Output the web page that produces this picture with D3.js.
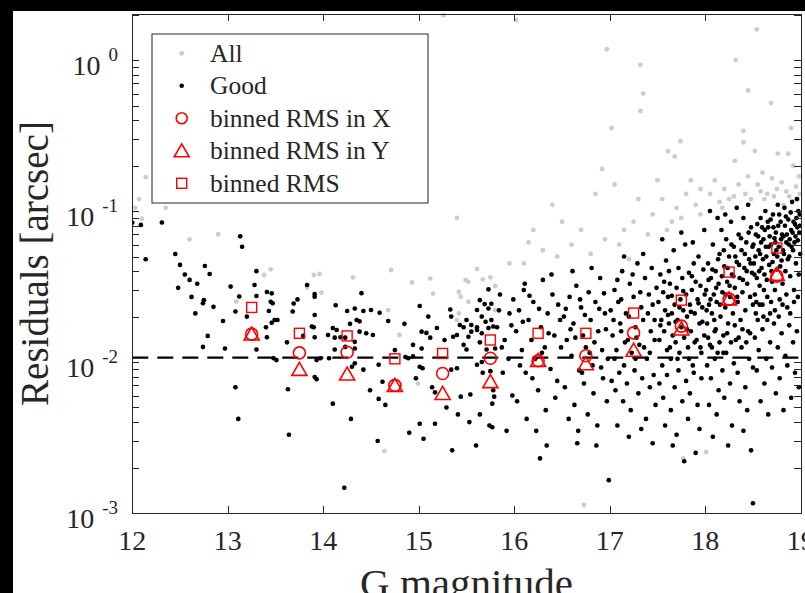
<!DOCTYPE html>
<meta charset="utf-8">
<head>
    <title>Residuals vs G magnitude</title>
</head>
<style>
    body { margin: 0; background: #000; }
    svg { display: block; }
    text { font-family: "Liberation Serif", "Times New Roman", serif; fill: #262626; }
    .axis path, .axis line { stroke: #262626; stroke-width: 1px; shape-rendering: crispEdges; }
</style>
<script src="https://d3js.org/d3.v7.min.js"></script>
<div id="fig"></div>
<script>

    // ---- data: [G magnitude, residual in arcsec] ----
    // stars flagged as good
    var goodPts = [
        [12.0,0.0837],[12.09,0.081],[12.14,0.048],[12.31,0.084],[12.45,0.052],[12.5,0.044],[12.55,0.038],
        [12.48,0.031],[12.6,0.035],[12.62,0.027],[12.68,0.033],[12.66,0.021],
        [12.76,0.0433],[12.81,0.0383],[13.30,0.0400],[13.03,0.0316],[13.28,0.0324],[13.12,0.0272],[12.75,0.0257],
        [12.74,0.0245],[12.85,0.0232],[13.41,0.0291],[13.46,0.0285],[13.30,0.0274],[13.45,0.0251],[13.47,0.0245],
        [13.08,0.0216],[13.43,0.0218],[13.20,0.0200],[13.49,0.0190],[13.52,0.0190],[12.95,0.0187],[13.46,0.0182],
        [13.40,0.0170],[12.79,0.0149],[13.41,0.0146],[12.74,0.0126],[12.97,0.0123],[13.30,0.0121],[13.62,0.0135],
        [13.73,0.0260],[13.69,0.0244],[13.68,0.0216],[13.91,0.0282],[13.91,0.0271],[13.83,0.0324],[13.91,0.0205],
        [13.88,0.0172],[13.90,0.0170],[13.91,0.0146],[13.79,0.0149],[13.48,0.0106],[13.51,0.0103],[13.93,0.0103],
        [13.91,0.00795],[13.93,0.0077],[13.08,0.0068],[13.63,0.0066],[13.11,0.0042],[13.13,0.068],[13.15,0.058],
        [13.64,0.0033],[14.22,0.00147],
        [14.13,0.0238],[14.25,0.0218],[14.40,0.0286],[14.33,0.0226],[14.35,0.0190],[14.38,0.0186],[14.28,0.0179],
        [14.10,0.0168],[14.14,0.0163],[14.18,0.0146],[14.12,0.0145],[14.23,0.0145],[14.05,0.0151],[14.38,0.0159],
        [14.45,0.0155],[14.42,0.0218],[14.50,0.0221],[14.33,0.0136],[14.33,0.0123],[14.12,0.0121],[14.23,0.0126],
        [14.06,0.0106],[13.97,0.0106],[14.33,0.0098],[14.30,0.0093],[14.42,0.0089],[14.10,0.0053],[14.29,0.0042],
        [14.49,0.0065],[14.59,0.0212],[14.52,0.0151],[14.68,0.0187],[14.85,0.0179],[14.58,0.0096],[14.75,0.0120],
        [14.86,0.0108],[14.89,0.0106],[14.94,0.0109],[14.94,0.0130],[14.62,0.0074],[14.65,0.0052],[14.58,0.0057],
        [14.57,0.0030],[14.9,0.0034],
        [15.01,0.0235],[15.10,0.0200],[15.03,0.0159],[15.08,0.0156],[15.12,0.0145],[15.03,0.0123],[15.01,0.0093],
        [15.04,0.0091],[14.97,0.0078],[15.19,0.0168],[15.33,0.0223],[15.34,0.0200],[15.27,0.0140],[15.36,0.0147],
        [15.40,0.0151],[15.47,0.0170],[15.43,0.0176],[15.50,0.0190],[15.55,0.0176],[15.61,0.0170],[15.55,0.0159],
        [15.52,0.0147],[15.47,0.0130],[15.50,0.0121],[15.40,0.0091],[15.34,0.0089],[15.14,0.0068],[15.17,0.0063],
        [15.29,0.0050],[15.41,0.0045],[15.01,0.0039],[15.17,0.0039],[15.53,0.0040],[15.44,0.0059],[15.54,0.0061],
        [15.64,0.0257],[15.69,0.0242],[15.73,0.0226],[15.76,0.0243],[15.61,0.0221],[15.66,0.0200],[15.70,0.0185],
        [15.76,0.0190],[15.73,0.0303],[15.61,0.0163],[15.66,0.0155],[15.73,0.0168],[15.78,0.0172],[15.82,0.0170],
        [15.64,0.0135],[15.71,0.0121],[15.80,0.0123],[15.66,0.0100],[15.67,0.0085],[15.61,0.0096],[15.75,0.0087],
        [15.79,0.0059],[15.77,0.0053],[15.64,0.0045],[15.74,0.0038],[15.77,0.0037],[15.78,0.0065],
        [15.05,0.0031],[15.6,0.0028],[15.35,0.0026],
        [15.85,0.028],[15.9,0.014],[15.95,0.021],[15.88,0.0085],[15.98,0.006],[15.92,0.0035],[15.87,0.0125],
        [15.97,0.0175],[15.84,0.022],[15.94,0.0105],[15.99,0.026],
        [16.02,0.016],[16.05,0.022],[16.08,0.012],[16.1,0.03],[16.12,0.0085],[16.15,0.019],[16.18,0.014],[16.2,0.025],
        [16.22,0.0105],[16.25,0.0065],[16.28,0.017],[16.3,0.035],[16.32,0.0125],[16.35,0.021],[16.38,0.009],[16.4,0.028],
        [16.42,0.015],[16.45,0.0075],[16.48,0.019],[16.03,0.0055],[16.13,0.0042],[16.23,0.0035],[16.33,0.0048],
        [16.43,0.0058],[16.06,0.0095],[16.16,0.0275],[16.26,0.0225],[16.36,0.0155],[16.46,0.024],[16.09,0.0185],
        [16.19,0.0078],[16.29,0.0115],[16.39,0.038],[16.49,0.0125],[16.27,0.0023],[16.34,0.0028],[16.11,0.033],
        [16.52,0.02],[16.55,0.014],[16.58,0.027],[16.6,0.011],[16.62,0.018],[16.65,0.032],[16.68,0.0088],[16.7,0.023],
        [16.72,0.015],[16.75,0.0125],[16.78,0.029],[16.8,0.019],[16.82,0.0095],[16.85,0.025],[16.88,0.016],[16.9,0.036],
        [16.92,0.012],[16.95,0.021],[16.98,0.0105],[16.53,0.0068],[16.63,0.0052],[16.73,0.0072],[16.83,0.0062],
        [16.93,0.0078],[16.57,0.0042],[16.67,0.0035],[16.77,0.0045],[16.87,0.0038],[16.97,0.0055],[16.99,0.00165],
        [16.54,0.0225],[16.64,0.0145],[16.74,0.0205],[16.84,0.0135],[16.94,0.0285],[16.59,0.0165],[16.69,0.026],
        [16.79,0.0115],[16.89,0.0225],[16.96,0.0165],[16.61,0.04],[16.81,0.042],[16.71,0.0085],[16.91,0.0092],
        [16.86,0.0028],[16.66,0.0029],
        [17.01,0.022],[17.03,0.015],[17.05,0.03],[17.07,0.012],[17.09,0.025],[17.11,0.018],[17.13,0.04],[17.15,0.0095],
        [17.17,0.021],[17.19,0.014],[17.21,0.033],[17.23,0.0115],[17.25,0.027],[17.27,0.017],[17.29,0.045],[17.31,0.013],
        [17.33,0.023],[17.35,0.019],[17.37,0.036],[17.39,0.0105],[17.41,0.028],[17.43,0.016],[17.45,0.024],[17.47,0.014],
        [17.49,0.031],[17.02,0.0075],[17.06,0.0065],[17.1,0.0085],[17.14,0.0055],[17.18,0.0072],[17.22,0.0048],
        [17.26,0.0088],[17.3,0.0062],[17.34,0.0078],[17.38,0.0042],[17.42,0.0068],[17.46,0.0082],[17.48,0.0052],
        [17.04,0.019],[17.08,0.035],[17.12,0.026],[17.16,0.0135],[17.2,0.02],[17.24,0.038],[17.28,0.0145],[17.32,0.029],
        [17.36,0.0125],[17.4,0.021],[17.44,0.042],[17.08,0.0038],[17.2,0.0032],[17.33,0.0036],[17.45,0.0029],
        [17.15,0.05],[17.35,0.052],[17.27,0.0105],[17.05,0.0105],[17.42,0.0115],[17.47,0.019],[17.12,0.016],
        [17.51,0.025],[17.52,0.014],[17.53,0.038],[17.54,0.019],[17.55,0.0095],[17.56,0.029],[17.57,0.016],[17.58,0.022],
        [17.59,0.047],[17.6,0.012],[17.61,0.027],[17.62,0.018],[17.63,0.033],[17.64,0.0105],[17.65,0.021],[17.66,0.015],
        [17.67,0.055],[17.68,0.024],[17.69,0.0135],[17.7,0.031],[17.71,0.019],[17.72,0.042],[17.73,0.0115],[17.74,0.026],
        [17.75,0.017],[17.76,0.036],[17.77,0.022],[17.78,0.0145],[17.79,0.06],[17.8,0.028],[17.81,0.02],[17.82,0.0125],
        [17.83,0.039],[17.84,0.024],[17.85,0.016],[17.86,0.03],[17.87,0.0095],[17.88,0.045],[17.89,0.021],[17.9,0.034],
        [17.91,0.014],[17.92,0.026],[17.93,0.05],[17.94,0.018],[17.95,0.032],[17.96,0.0115],[17.97,0.023],[17.98,0.041],
        [17.99,0.015],[17.995,0.028],[17.52,0.0072],[17.56,0.0058],[17.6,0.0082],[17.64,0.0048],[17.68,0.0068],
        [17.72,0.0088],[17.76,0.0055],[17.8,0.0075],[17.84,0.0062],[17.88,0.0085],[17.92,0.0052],[17.96,0.0078],
        [17.58,0.0038],[17.7,0.0033],[17.82,0.0042],[17.94,0.0036],[17.66,0.0028],[17.9,0.0025],[17.78,0.0022],
        [17.53,0.0175],[17.57,0.034],[17.61,0.0205],[17.65,0.0275],[17.69,0.0185],[17.73,0.023],[17.77,0.0295],
        [17.81,0.0165],[17.85,0.0215],[17.89,0.0135],[17.93,0.0245],[17.97,0.0185],[17.55,0.065],[17.75,0.072],
        [17.87,0.062],[17.99,0.075],[17.63,0.0125],[17.71,0.0105],[17.83,0.0105],[17.95,0.0125],[17.62,0.04],[17.86,0.037],
        [18.01,0.03],[18.02,0.018],[18.03,0.045],[18.04,0.024],[18.05,0.013],[18.06,0.036],[18.07,0.021],[18.08,0.06],
        [18.09,0.028],[18.1,0.016],[18.11,0.04],[18.12,0.025],[18.13,0.0115],[18.14,0.033],[18.15,0.052],[18.16,0.02],
        [18.17,0.075],[18.18,0.029],[18.19,0.015],[18.2,0.043],[18.21,0.023],[18.22,0.065],[18.23,0.034],[18.24,0.018],
        [18.25,0.05],[18.26,0.027],[18.27,0.085],[18.28,0.038],[18.29,0.021],[18.3,0.058],[18.31,0.031],[18.32,0.014],
        [18.33,0.046],[18.34,0.025],[18.35,0.07],[18.36,0.036],[18.37,0.019],[18.38,0.055],[18.39,0.029],[18.4,0.09],
        [18.41,0.042],[18.42,0.022],[18.43,0.062],[18.44,0.033],[18.45,0.016],[18.46,0.048],[18.47,0.027],[18.48,0.078],
        [18.49,0.039],[18.5,0.024],[18.015,0.022],[18.035,0.035],[18.055,0.026],[18.075,0.041],[18.095,0.019],
        [18.115,0.031],[18.135,0.048],[18.155,0.024],[18.175,0.037],[18.195,0.055],[18.215,0.028],[18.235,0.042],
        [18.255,0.032],[18.275,0.06],[18.295,0.037],[18.315,0.05],[18.335,0.027],[18.355,0.044],[18.375,0.066],
        [18.395,0.035],[18.415,0.052],[18.435,0.04],[18.455,0.072],[18.475,0.045],[18.495,0.058],
        [18.02,0.0095],[18.06,0.0078],[18.1,0.0105],[18.14,0.0065],[18.18,0.0088],[18.22,0.0115],[18.26,0.0072],
        [18.3,0.0098],[18.34,0.0085],[18.38,0.0125],[18.42,0.0068],[18.46,0.0105],[18.5,0.0092],[18.04,0.0052],
        [18.12,0.0045],[18.2,0.0058],[18.28,0.0038],[18.36,0.0055],[18.44,0.0048],[18.08,0.0032],[18.24,0.0028],
        [18.4,0.0035],[18.48,0.0026],[18.03,0.0145],[18.07,0.0125],[18.11,0.0165],[18.15,0.0135],[18.19,0.0115],
        [18.23,0.0155],[18.27,0.0135],[18.31,0.0175],[18.35,0.0145],[18.39,0.0165],[18.43,0.0135],[18.47,0.0155],
        [18.05,0.1],[18.21,0.095],[18.33,0.105],[18.45,0.11],[18.13,0.09],
        [18.51,0.045],[18.52,0.028],[18.53,0.07],[18.54,0.036],[18.55,0.019],[18.56,0.055],[18.57,0.032],[18.58,0.09],
        [18.59,0.042],[18.6,0.024],[18.61,0.065],[18.62,0.038],[18.63,0.1],[18.64,0.05],[18.65,0.027],[18.66,0.078],
        [18.67,0.044],[18.68,0.021],[18.69,0.06],[18.7,0.034],[18.71,0.095],[18.72,0.052],[18.73,0.03],[18.74,0.072],
        [18.75,0.041],[18.76,0.11],[18.77,0.058],[18.78,0.026],[18.79,0.085],[18.8,0.047],[18.81,0.033],[18.82,0.068],
        [18.83,0.105],[18.84,0.04],[18.85,0.062],[18.86,0.023],[18.87,0.088],[18.88,0.05],[18.89,0.037],[18.9,0.075],
        [18.91,0.115],[18.92,0.055],[18.93,0.03],[18.94,0.082],[18.95,0.045],[18.96,0.12],[18.97,0.064],[18.98,0.038],
        [18.99,0.095],[18.995,0.052],[18.505,0.06],[18.525,0.05],[18.545,0.082],[18.565,0.04],[18.585,0.062],
        [18.605,0.048],[18.625,0.075],[18.645,0.035],[18.665,0.058],[18.685,0.088],[18.705,0.046],[18.725,0.066],
        [18.745,0.055],[18.765,0.08],[18.785,0.043],[18.805,0.07],[18.825,0.052],[18.845,0.092],[18.865,0.048],
        [18.885,0.065],[18.905,0.058],[18.925,0.085],[18.945,0.068],[18.965,0.078],[18.985,0.072],
        [18.515,0.038],[18.535,0.025],[18.555,0.068],[18.575,0.052],[18.595,0.078],[18.615,0.03],[18.635,0.058],
        [18.655,0.085],[18.675,0.068],[18.695,0.04],[18.715,0.078],[18.735,0.062],[18.755,0.05],[18.775,0.095],
        [18.795,0.065],[18.815,0.055],[18.835,0.08],[18.855,0.07],[18.875,0.06],[18.895,0.098],[18.915,0.072],
        [18.935,0.062],[18.955,0.09],[18.975,0.1],[18.99,0.08],
        [18.52,0.0145],[18.56,0.012],[18.6,0.0165],[18.64,0.0105],[18.68,0.0135],[18.72,0.018],[18.76,0.0125],
        [18.8,0.0155],[18.84,0.011],[18.88,0.0175],[18.92,0.0135],[18.96,0.016],[18.54,0.0088],[18.62,0.0072],
        [18.7,0.0092],[18.78,0.0078],[18.86,0.0095],[18.94,0.0085],[18.58,0.0055],[18.74,0.0062],[18.9,0.0058],
        [18.66,0.0045],[18.82,0.0048],[18.98,0.0068],[18.53,0.021],[18.57,0.024],[18.61,0.02],[18.65,0.019],
        [18.69,0.025],[18.73,0.022],[18.77,0.02],[18.81,0.024],[18.85,0.028],[18.89,0.021],[18.93,0.025],[18.97,0.027],
        [18.5,0.00116]
    ];

    // stars rejected (shown only in "All")
    var rejectedPts = [
        [15.26,1.98],[16.02,1.84],[16.97,1.18],[17.32,0.93],[17.35,0.60],[17.32,0.46],[18.32,1.0],[18.45,0.63],
        [18.69,0.52],[17.02,0.355],[17.74,0.29],[18.40,0.34],[18.40,0.285],[18.90,0.355],[17.61,0.249],[17.68,0.23],
        [18.52,0.25],[18.31,0.215],[18.76,0.24],[18.87,0.24],[16.92,0.19],[18.54,1.6],
        [12.14,0.168],[12.07,0.12],[12.03,0.105],[12.10,0.089],[12.45,0.12],[12.35,0.105],[12.6,0.065],[12.9,0.07],
        [13.45,0.0411],[13.38,0.0377],[13.90,0.0377],[13.96,0.0383],[13.84,0.0324],[13.83,0.0310],[13.98,0.0288],
        [14.31,0.0364],[14.71,0.0407],[14.93,0.0337],[15.12,0.0357],[15.15,0.0284],[15.49,0.0349],[15.52,0.0340],
        [15.61,0.0414],[15.67,0.0353],[15.75,0.0364],[15.80,0.0319],[13.09,0.0251],[14.68,0.0221],[14.80,0.0151],
        [14.99,0.0072],[15.42,0.0291],[15.44,0.0271],[15.40,0.0190],[15.42,0.0210],[15.52,0.0251],[15.80,0.0221],
        [14.64,0.00257],[16.73,0.00113],[17.77,0.0023],[18.01,0.00253],
        [16.1,0.045],[16.3,0.055],[16.45,0.05],[16.2,0.075],[16.4,0.11],[16.6,0.06],[16.8,0.052],[16.7,0.075],
        [16.95,0.065],[17.15,0.075],[17.25,0.085],[17.4,0.07],[17.1,0.06],[17.45,0.095],
        [15.4,0.09],[15.95,0.045],[16.15,0.062],[16.5,0.085],[16.85,0.13],[17.05,0.15],[17.3,0.12],[17.2,0.048],
        [17.55,0.12],[17.7,0.105],[17.8,0.13],[17.9,0.11],[17.65,0.085],[17.95,0.095],[17.85,0.16],
        [17.6,0.075],[17.75,0.09],[17.95,0.14],[17.5,0.16],
        [18.1,0.16],[18.2,0.14],[18.35,0.15],[18.45,0.17],[18.05,0.13],[18.25,0.12],[18.42,0.13],[18.15,0.115],
        [18.48,0.12],[18.6,0.18],[18.7,0.165],[18.8,0.155],[18.95,0.145],[18.98,0.17],[18.92,0.2],[18.85,0.135],
        [18.65,0.13],[18.75,0.14],[18.99,0.13],[18.55,0.15],[18.97,0.12],
        [18.3,0.125],[18.18,0.105],[18.62,0.12],[18.72,0.125],[18.88,0.125],[18.58,0.135],[18.82,0.11]
    ];

    // binned RMS, bin centres in magnitude
    var binMag = [13.25, 13.75, 14.25, 14.75, 15.25, 15.75, 16.25, 16.75, 17.25, 17.75, 18.25, 18.75];
    var rmsX   = [0.0153, 0.0115, 0.0116, 0.0070, 0.0084, 0.0106, 0.0102, 0.0110, 0.0156, 0.0173, 0.0261, 0.0371];
    var rmsY   = [0.0151, 0.0088, 0.0082, 0.0069, 0.0061, 0.0073, 0.0101, 0.0096, 0.0118, 0.0163, 0.0258, 0.0375];
    var rmsAll = [0.0230, 0.0155, 0.0149, 0.0105, 0.0114, 0.0140, 0.0155, 0.0155, 0.0211, 0.0257, 0.0394, 0.0569];
    var refLevel = 0.0107;

    var xTicks = [12, 13, 14, 15, 16, 17, 18, 19];
    var yMajor = [1e-3, 1e-2, 1e-1, 1e0];
    var yExp = ["-3", "-2", "-1", "0"];
    var legendNames = ["All", "Good", "binned RMS in X", "binned RMS in Y", "binned RMS"];

    // ---- layout ----
    var W = 805, H = 593;
    var axL = 132.3, axR = 800.7, axT = 14, axB = 513;

    var svg = d3.select("#fig").append("svg")
        .attr("width", W).attr("height", H);

    svg.append("rect").attr("width", W).attr("height", H).attr("fill", "#000");
    svg.append("rect").attr("x", 13).attr("y", 11).attr("width", W - 13).attr("height", H - 11).attr("fill", "#fff");

    var x = d3.scaleLinear().domain([12, 19]).range([axL, axR]);
    var y = d3.scaleLog().domain([1e-3, 2.02]).range([axB, axT]);

    svg.append("defs").append("clipPath").attr("id", "clip")
        .append("rect").attr("x", axL).attr("y", axT - 3)
        .attr("width", axR - axL + 3).attr("height", axB - axT + 3);

    var plot = svg.append("g").attr("clip-path", "url(#clip)");

    var allPts = rejectedPts.concat(goodPts);

    plot.append("g").selectAll("circle")
        .data(allPts).enter().append("circle")
        .attr("cx", function (d) { return x(d[0]); })
        .attr("cy", function (d) { return y(d[1]); })
        .attr("r", 2.4)
        .attr("fill", "#cccccc");

    plot.append("g").selectAll("circle")
        .data(goodPts).enter().append("circle")
        .attr("cx", function (d) { return x(d[0]); })
        .attr("cy", function (d) { return y(d[1]); })
        .attr("r", 2.3)
        .attr("fill", "#000");

    // reference level
    plot.append("line")
        .attr("x1", x(12)).attr("x2", x(19))
        .attr("y1", y(refLevel)).attr("y2", y(refLevel))
        .attr("stroke", "#000").attr("stroke-width", 2.4)
        .attr("stroke-dasharray", "16,9");

    // marker shapes
    var triPath = "M0,-8 L7.5,5 L-7.5,5 Z";
    var binG = plot.append("g");
    binG.selectAll(null).data(binMag).enter().append("circle")
        .attr("cx", function (d) { return x(d); })
        .attr("cy", function (d, i) { return y(rmsX[i]); })
        .attr("r", 6)
        .attr("fill", "none").attr("stroke", "#ff0000").attr("stroke-width", 1.6);
    binG.selectAll(null).data(binMag).enter().append("path")
        .attr("d", triPath)
        .attr("transform", function (d, i) { return "translate(" + x(d) + "," + y(rmsY[i]) + ")"; })
        .attr("fill", "none").attr("stroke", "#ff0000").attr("stroke-width", 1.6);
    binG.selectAll(null).data(binMag).enter().append("rect")
        .attr("x", function (d) { return x(d) - 5; })
        .attr("y", function (d, i) { return y(rmsAll[i]) - 5; })
        .attr("width", 10).attr("height", 10)
        .attr("fill", "none").attr("stroke", "#ff0000").attr("stroke-width", 1.4);

    // ---- axes (ticks pointing inward, box on) ----
    var yMinor = [];
    [1e-3, 1e-2, 1e-1, 1].forEach(function (dec) {
        for (var k = 2; k <= 9; k++) { if (dec * k <= 2.02) yMinor.push(dec * k); }
    });
    var yAll = yMajor.concat(yMinor);

    svg.append("g").attr("class", "axis")
        .attr("transform", "translate(0," + axB + ")")
        .call(d3.axisBottom(x).tickValues(xTicks).tickSizeInner(-7).tickSizeOuter(0).tickFormat(""));
    svg.append("g").attr("class", "axis")
        .attr("transform", "translate(0," + axT + ")")
        .call(d3.axisTop(x).tickValues(xTicks).tickSizeInner(-7).tickSizeOuter(0).tickFormat(""));
    svg.append("g").attr("class", "axis")
        .attr("transform", "translate(" + axL + ",0)")
        .call(d3.axisLeft(y).tickValues(yAll).tickSizeInner(-7).tickSizeOuter(0).tickFormat(""));
    svg.append("g").attr("class", "axis")
        .attr("transform", "translate(" + axR + ",0)")
        .call(d3.axisRight(y).tickValues(yAll).tickSizeInner(-7).tickSizeOuter(0).tickFormat(""));

    // x tick labels
    svg.append("g").selectAll("text")
        .data(xTicks).enter().append("text")
        .attr("x", function (d) { return x(d); })
        .attr("y", 550)
        .attr("text-anchor", "middle")
        .attr("font-size", "28px")
        .text(function (d) { return d; });

    // y tick labels 10^n
    var yl = svg.append("g").selectAll("text")
        .data(yMajor).enter().append("text")
        .attr("x", 118)
        .attr("y", function (d) { return y(d) + 14.5; })
        .attr("text-anchor", "end")
        .attr("font-size", "28px");
    yl.append("tspan").text("10");
    yl.append("tspan").attr("dx", 8).attr("dy", -14).attr("font-size", "19px")
        .text(function (d, i) { return yExp[i]; });

    // axis labels
    svg.append("text")
        .attr("x", (axL + axR) / 2).attr("y", 597)
        .attr("text-anchor", "middle").attr("font-size", "41px")
        .text("G magnitude");
    svg.append("text")
        .attr("transform", "translate(48," + (axT + axB) / 2 + ") rotate(-90)")
        .attr("text-anchor", "middle").attr("font-size", "39px")
        .text("Residuals [arcsec]");

    // ---- legend ----
    var lg = svg.append("g");
    lg.append("rect").attr("x", 152).attr("y", 34).attr("width", 276).attr("height", 169)
        .attr("fill", "#fff").attr("stroke", "#262626").attr("stroke-width", 1);
    var rowY = function (i) { return 53.3 + i * 32.5; };
    var mx = 181.7;
    lg.append("circle").attr("cx", mx).attr("cy", rowY(0)).attr("r", 2.4).attr("fill", "#cccccc");
    lg.append("circle").attr("cx", mx).attr("cy", rowY(1)).attr("r", 2.3).attr("fill", "#000");
    lg.append("circle").attr("cx", mx).attr("cy", rowY(2)).attr("r", 5.5)
        .attr("fill", "none").attr("stroke", "#ff0000").attr("stroke-width", 1.6);
    lg.append("path").attr("d", triPath).attr("transform", "translate(" + mx + "," + (rowY(3) + 1) + ")")
        .attr("fill", "none").attr("stroke", "#ff0000").attr("stroke-width", 1.6);
    lg.append("rect").attr("x", mx - 5).attr("y", rowY(4) - 5).attr("width", 10).attr("height", 10)
        .attr("fill", "none").attr("stroke", "#ff0000").attr("stroke-width", 1.4);
    lg.selectAll("text").data(legendNames).enter().append("text")
        .attr("x", 210)
        .attr("y", function (d, i) { return rowY(i) + 8.5; })
        .attr("font-size", "25.5px")
        .attr("fill", "#000")
        .text(function (d) { return d; });

</script>
